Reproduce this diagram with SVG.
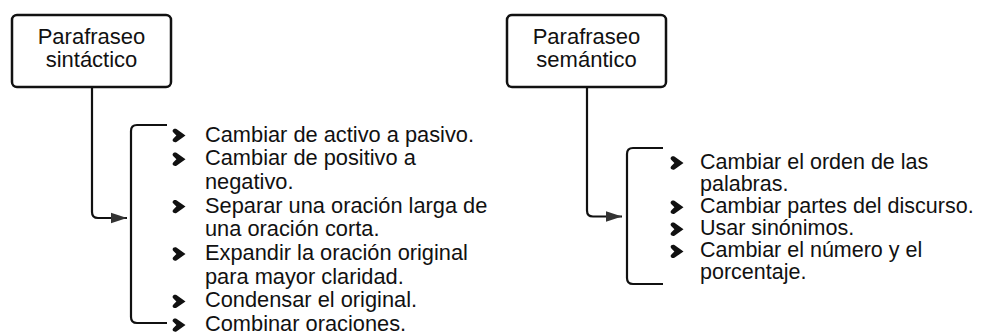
<svg xmlns="http://www.w3.org/2000/svg" xmlns:xlink="http://www.w3.org/1999/xlink" width="981" height="336" viewBox="0 0 981 336">
<style>
.box{fill:#fff;stroke:#111;stroke-width:2.5}
.ln{fill:none;stroke:#111;stroke-width:2.2}
.t{font-family:"Liberation Sans",Arial,sans-serif;font-size:21.8px;fill:#111}
.r{font-size:21.5px}
.h{font-size:22px;text-anchor:middle}
.bul{fill:#111}
</style>
<defs>
<marker id="arr" markerWidth="17" markerHeight="12" viewBox="0 0 17 12" refX="16" refY="6" orient="auto" markerUnits="userSpaceOnUse">
<path d="M0,0.8 L16,6 L0,11.2 Z" fill="#333"/>
</marker>
<path id="b" d="M6.5,0 L-2.2,-6.2 C-4.8,-7.8 -7.8,-5.2 -5.6,-3 L-2.6,0 L-5.6,3 C-7.8,5.2 -4.8,7.8 -2.2,6.2 Z"/>
</defs>
<rect width="981" height="336" fill="#fff"/>
<g id="connectors">
<path class="ln" d="M92,87 V212 Q92,218 98,218 H127" marker-end="url(#arr)"/>
<path class="ln" d="M587,87 V210.5 Q587,216.5 593,216.5 H622" marker-end="url(#arr)"/>
</g>
<g id="sintactico">
<rect class="box" x="12" y="15" width="159" height="72" rx="5"/>
<text class="t h" x="91.5" y="43.5">Parafraseo</text>
<text class="t h" x="91.5" y="66.5">sintáctico</text>
</g>
<g id="semantico">
<rect class="box" x="507" y="15" width="159" height="72" rx="5"/>
<text class="t h" x="586.5" y="43.5">Parafraseo</text>
<text class="t h" x="586.5" y="66.5">semántico</text>
</g>
<g id="lista-sintactico">
<path class="ln" d="M167,125 H137 Q131,125 131,131 V317 Q131,323 137,323 H167"/>
<use href="#b" class="bul" x="179" y="135.5"/>
<use href="#b" class="bul" x="179" y="159.2"/>
<use href="#b" class="bul" x="179" y="206.6"/>
<use href="#b" class="bul" x="179" y="254"/>
<use href="#b" class="bul" x="179" y="301.4"/>
<use href="#b" class="bul" x="179" y="325.1"/>
<text class="t" x="205" y="141.5">Cambiar de activo a pasivo.</text>
<text class="t" x="205" y="165.2">Cambiar de positivo a</text>
<text class="t" x="205" y="188.9">negativo.</text>
<text class="t" x="205" y="212.6">Separar una oración larga de</text>
<text class="t" x="205" y="236.3">una oración corta.</text>
<text class="t" x="205" y="260">Expandir la oración original</text>
<text class="t" x="205" y="283.7">para mayor claridad.</text>
<text class="t" x="205" y="307.4">Condensar el original.</text>
<text class="t" x="205" y="331.1">Combinar oraciones.</text>
</g>
<g id="lista-semantico">
<path class="ln" d="M663,148 H633 Q627,148 627,154 V278 Q627,284 633,284 H663"/>
<use href="#b" class="bul" x="677" y="163"/>
<use href="#b" class="bul" x="677" y="207.2"/>
<use href="#b" class="bul" x="677" y="229.3"/>
<use href="#b" class="bul" x="677" y="251.4"/>
<text class="t r" x="700" y="168.6">Cambiar el orden de las</text>
<text class="t r" x="700" y="190.7">palabras.</text>
<text class="t r" x="700" y="212.8">Cambiar partes del discurso.</text>
<text class="t r" x="700" y="234.9">Usar sinónimos.</text>
<text class="t r" x="700" y="257">Cambiar el número y el</text>
<text class="t r" x="700" y="279.1">porcentaje.</text>
</g>
</svg>
